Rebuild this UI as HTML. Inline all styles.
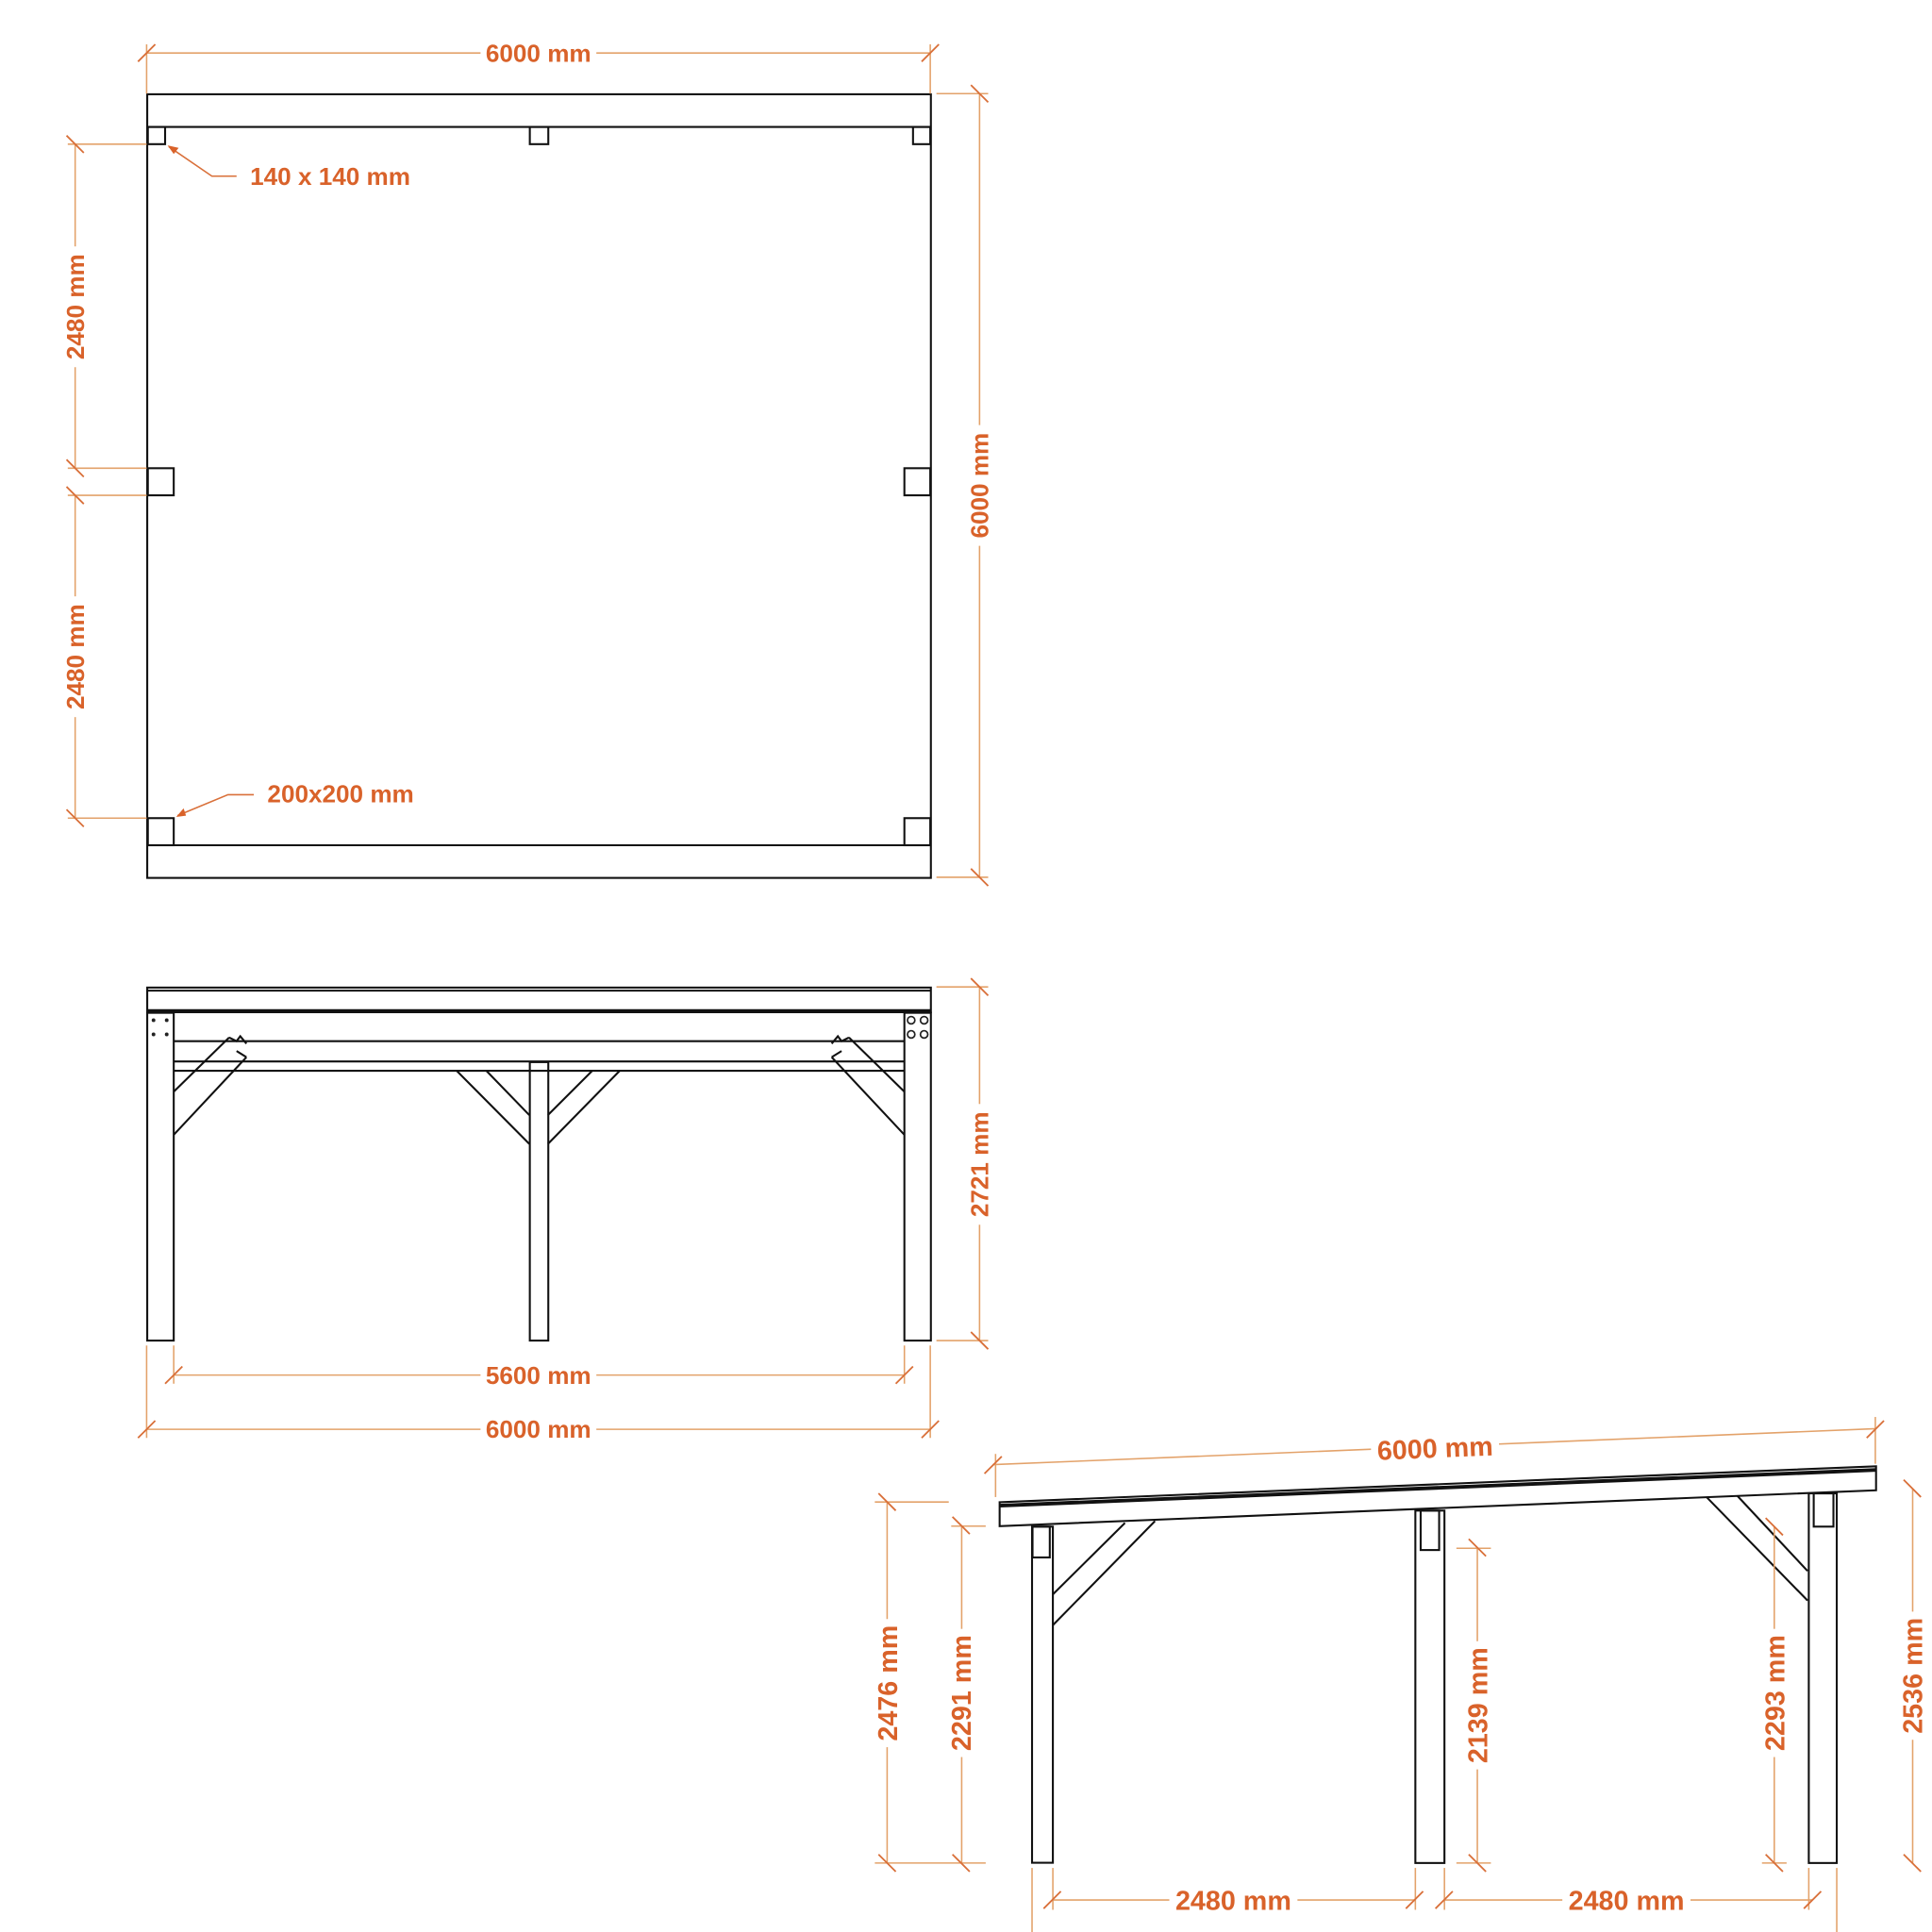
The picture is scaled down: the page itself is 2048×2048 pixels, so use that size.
<!DOCTYPE html>
<html><head><meta charset="utf-8"><style>html,body{margin:0;padding:0;background:#fff}svg{display:block}</style></head>
<body>
<svg xmlns="http://www.w3.org/2000/svg" width="2048" height="2048" viewBox="0 0 1568 1568">
<rect width="1568" height="1568" fill="#fff"/>
<g fill="none" stroke="#111" stroke-width="1.6">
<rect x="119.5" y="76.5" width="636" height="636"/>
<line x1="119.5" y1="103" x2="755.5" y2="103"/>
<line x1="119.5" y1="686" x2="755.5" y2="686"/>
<rect x="120" y="103" width="14" height="14"/>
<rect x="430" y="103" width="15" height="14"/>
<rect x="741" y="103" width="14" height="14"/>
<rect x="120" y="380" width="21" height="22"/>
<rect x="734" y="380" width="21" height="22"/>
<rect x="120" y="664" width="21" height="22"/>
<rect x="734" y="664" width="21" height="22"/>
<rect x="119.5" y="801.5" width="636" height="20"/>
<line x1="119.5" y1="804" x2="755.5" y2="804"/>
<line x1="119.5" y1="820.5" x2="755.5" y2="820.5" stroke-width="3"/>
<rect x="119.5" y="822" width="21.5" height="266"/>
<rect x="734" y="822" width="21.5" height="266"/>
<rect x="430" y="862" width="15" height="226"/>
<line x1="141" y1="845" x2="734" y2="845"/>
<line x1="141" y1="861.5" x2="734" y2="861.5"/>
<line x1="141" y1="869" x2="734" y2="869"/>
<path d="M186 842 L141 886 M200 858 L141 921 M186 842 l6 3 l3 -4 l5 6 M192 853 l8 5"/>
<path d="M689 842 L734 886 M675 858 L734 921 M689 842 l-6 3 l-3 -4 l-5 6 M683 853 l-8 5"/>
<path d="M370.6 869 L429.6 928.4 M394.7 869 L429.6 905"/>
<path d="M503 869 L444.7 928.4 M480.7 869 L444.7 905"/>
<path d="M811.3 1219.2 L1522.6 1190 L1522.6 1209.5 L811.3 1238.6 Z"/>
<line x1="811.3" y1="1222" x2="1522.6" y2="1193" stroke-width="3"/>
<rect x="837.6" y="1239" width="16.9" height="272.8"/>
<rect x="838" y="1239" width="14" height="25"/>
<rect x="1148.7" y="1226" width="23.6" height="286"/>
<rect x="1153" y="1226" width="15" height="32"/>
<rect x="1468" y="1212" width="22.7" height="300"/>
<rect x="1472" y="1212" width="16" height="27"/>
<path d="M913 1236 L854.5 1294 M937.4 1234.5 L854.5 1319"/>
<path d="M1385 1215 L1467 1299 M1410 1214 L1467 1275"/>
</g>
<g fill="#222">
<circle cx="124.6" cy="828" r="1.5"/><circle cx="135.3" cy="828" r="1.5"/>
<circle cx="124.6" cy="839.5" r="1.5"/><circle cx="135.3" cy="839.5" r="1.5"/>
</g>
<g fill="none" stroke="#222" stroke-width="1.3">
<circle cx="739.5" cy="828" r="3"/><circle cx="750" cy="828" r="3"/>
<circle cx="739.5" cy="839.5" r="3"/><circle cx="750" cy="839.5" r="3"/>
</g>
<g fill="none" stroke="#e3a26a" stroke-width="1.2">
<line x1="119" y1="43" x2="755" y2="43"/>
<line x1="119" y1="36" x2="119" y2="76"/><line x1="755" y1="36" x2="755" y2="76"/>
<line x1="795" y1="76" x2="795" y2="712"/>
<line x1="760" y1="76" x2="802" y2="76"/><line x1="760" y1="712" x2="802" y2="712"/>
<line x1="61" y1="117" x2="61" y2="380"/><line x1="61" y1="402" x2="61" y2="664"/>
<line x1="55" y1="117" x2="119" y2="117"/><line x1="55" y1="380" x2="119" y2="380"/>
<line x1="55" y1="402" x2="119" y2="402"/><line x1="55" y1="664" x2="119" y2="664"/>
<path d="M137 119 L172 143 L192 143" stroke="#d9703a"/>
<path d="M144 662 L185 645 L206 645" stroke="#d9703a"/>
<line x1="795" y1="801" x2="795" y2="1088"/>
<line x1="760" y1="801" x2="802" y2="801"/><line x1="760" y1="1088" x2="802" y2="1088"/>
<line x1="141" y1="1116" x2="734" y2="1116"/>
<line x1="119" y1="1160" x2="755" y2="1160"/>
<line x1="119" y1="1092" x2="119" y2="1167"/><line x1="755" y1="1092" x2="755" y2="1167"/>
<line x1="141" y1="1092" x2="141" y2="1123"/><line x1="734" y1="1092" x2="734" y2="1123"/>
<line x1="805.7" y1="1188.7" x2="1522.6" y2="1159.5"/>
<line x1="808" y1="1180" x2="808" y2="1215"/><line x1="1522" y1="1150" x2="1522" y2="1188"/>
<line x1="720" y1="1219" x2="720" y2="1512"/>
<line x1="710" y1="1219" x2="770" y2="1219"/><line x1="710" y1="1512" x2="800" y2="1512"/>
<line x1="780.5" y1="1238.6" x2="780.5" y2="1512"/>
<line x1="772" y1="1238.6" x2="800" y2="1238.6"/>
<line x1="1199" y1="1256.6" x2="1199" y2="1512"/>
<line x1="1182" y1="1256.6" x2="1210" y2="1256.6"/><line x1="1182" y1="1512" x2="1210" y2="1512"/>
<line x1="1440" y1="1239" x2="1440" y2="1512"/>
<line x1="1430" y1="1512" x2="1450" y2="1512"/>
<line x1="1552.3" y1="1208" x2="1552.3" y2="1512"/>
<line x1="854.5" y1="1542" x2="1148.7" y2="1542"/>
<line x1="1172.3" y1="1542" x2="1471" y2="1542"/>
<line x1="837.6" y1="1516" x2="837.6" y2="1568"/><line x1="854.5" y1="1516" x2="854.5" y2="1550"/>
<line x1="1148.7" y1="1516" x2="1148.7" y2="1550"/><line x1="1172.3" y1="1516" x2="1172.3" y2="1550"/>
<line x1="1468" y1="1516" x2="1468" y2="1550"/><line x1="1490.7" y1="1516" x2="1490.7" y2="1568"/>
</g>
<g fill="#d9622a">
<path d="M136 118 l9 2 l-4 5 z"/>
<path d="M143 663 l6 -7 l2 6 z"/>
</g>
<g stroke="#d9703a" stroke-width="1.4" fill="none">
<path d="M112 50 l14 -14 M748 50 l14 -14
M788 69 l14 14 M788 705 l14 14
M54 110 l14 14 M54 373 l14 14 M54 395 l14 14 M54 657 l14 14
M788 794 l14 14 M788 1081 l14 14
M134 1123 l14 -14 M727 1123 l14 -14
M112 1167 l14 -14 M748 1167 l14 -14
M799 1196 l14 -14 M1515 1167 l14 -14
M713 1212 l14 14 M713 1505 l14 14
M773 1231 l14 14 M773 1505 l14 14
M1192 1249 l14 14 M1192 1505 l14 14
M1433 1232 l14 14 M1433 1505 l14 14
M1545 1201 l14 14 M1545 1505 l14 14
M847 1549 l14 -14 M1141 1549 l14 -14 M1165 1549 l14 -14 M1464 1549 l14 -14"/>
</g>
<g font-family="Liberation Sans, sans-serif" font-weight="bold" font-size="20" fill="#d9622a">
<rect x="390" y="32" width="94" height="22" fill="#fff"/>
<text x="437" y="50" text-anchor="middle">6000 mm</text>
<text x="203" y="150">140 x 140 mm</text>
<text x="217" y="651">200x200 mm</text>
<rect x="785" y="345" width="22" height="98" fill="#fff"/>
<text transform="translate(802,394) rotate(-90)" text-anchor="middle">6000 mm</text>
<rect x="51" y="200" width="22" height="98" fill="#fff"/>
<text transform="translate(68,249) rotate(-90)" text-anchor="middle">2480 mm</text>
<rect x="51" y="484" width="22" height="98" fill="#fff"/>
<text transform="translate(68,533) rotate(-90)" text-anchor="middle">2480 mm</text>
<rect x="785" y="896" width="22" height="98" fill="#fff"/>
<text transform="translate(802,945) rotate(-90)" text-anchor="middle">2721 mm</text>
<rect x="390" y="1105" width="94" height="22" fill="#fff"/>
<text x="437" y="1123" text-anchor="middle">5600 mm</text>
<rect x="390" y="1149" width="94" height="22" fill="#fff"/>
<text x="437" y="1167" text-anchor="middle">6000 mm</text>
<g transform="translate(1165,1183) rotate(-2.3)">
<rect x="-52" y="-20" width="104" height="26" fill="#fff"/>
<text x="0" y="0" text-anchor="middle" font-size="22">6000 mm</text></g>
<rect x="708" y="1314" width="24" height="104" fill="#fff"/>
<text transform="translate(728,1366) rotate(-90)" text-anchor="middle" font-size="22">2476 mm</text>
<rect x="768" y="1322" width="24" height="104" fill="#fff"/>
<text transform="translate(788,1374) rotate(-90)" text-anchor="middle" font-size="22">2291 mm</text>
<rect x="1187" y="1332" width="24" height="104" fill="#fff"/>
<text transform="translate(1207,1384) rotate(-90)" text-anchor="middle" font-size="22">2139 mm</text>
<rect x="1428" y="1322" width="24" height="104" fill="#fff"/>
<text transform="translate(1448,1374) rotate(-90)" text-anchor="middle" font-size="22">2293 mm</text>
<rect x="1540" y="1308" width="24" height="104" fill="#fff"/>
<text transform="translate(1560,1360) rotate(-90)" text-anchor="middle" font-size="22">2536 mm</text>
<rect x="949" y="1530" width="104" height="24" fill="#fff"/>
<text x="1001" y="1550" text-anchor="middle" font-size="22">2480 mm</text>
<rect x="1268" y="1530" width="104" height="24" fill="#fff"/>
<text x="1320" y="1550" text-anchor="middle" font-size="22">2480 mm</text>
</g>
</svg>
</body></html>
